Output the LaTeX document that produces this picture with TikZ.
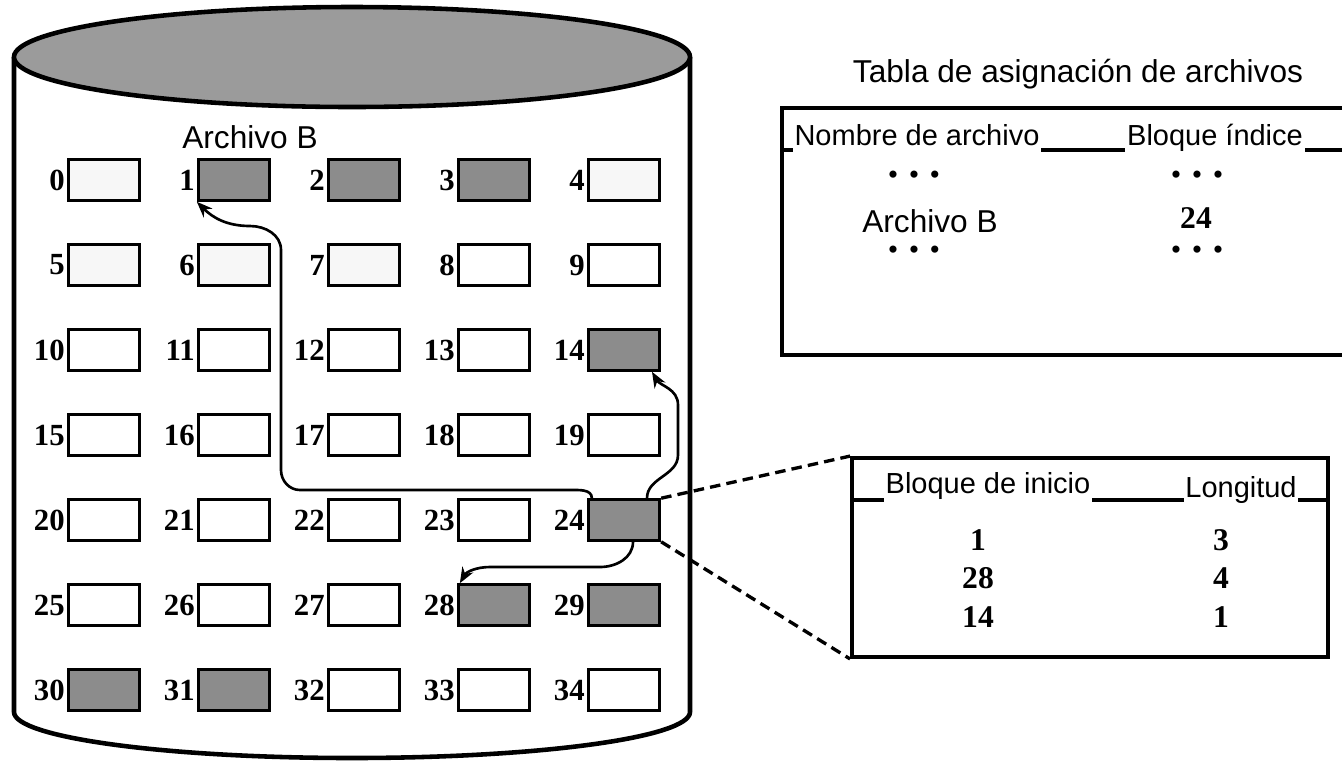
\documentclass[tikz,border=0pt]{standalone}
\usepackage{fontspec}
\setmainfont{Liberation Serif}
\setsansfont{Liberation Sans}
\usepackage{tikz}
\usetikzlibrary{arrows.meta,calc,fit}
\definecolor{diskgray}{RGB}{155,155,155}
\definecolor{usedgray}{RGB}{140,140,140}
\definecolor{palegray}{RGB}{247,247,247}

\begin{document}
\begin{tikzpicture}
[x=0.02cm, y=-0.02cm,
block/.style={draw, line width=1.8pt, minimum width=40.5pt, minimum height=23pt, inner sep=0pt, fill=white},
used/.style={block, fill=usedgray},
pale/.style={block, fill=palegray},
num/.style={font=\bfseries\fontsize{17.5}{17.5}\selectfont, inner sep=1pt},
val/.style={font=\bfseries\fontsize{18}{18}\selectfont, inner sep=0pt},
lbl/.style={font=\sffamily\fontsize{16.5}{18}\selectfont, inner sep=1pt, anchor=base},
head/.style={lbl, fill=white, inner xsep=1pt, inner ysep=4.5pt},
dots/.style={font=\fontsize{17}{17}\selectfont, inner sep=0pt},
link/.style={line width=1.5pt, -{Stealth[length=9pt,width=7pt]}},
zoom/.style={line width=1.9pt, dash pattern=on 6pt off 3.5pt},
frame/.style={line width=2.2pt}]
\useasboundingbox (0,0) rectangle (1342,762);
\draw[line width=2.6pt] (14,57) -- (14,712) arc[start angle=180, end angle=0, x radius=338, y radius=46] -- (690,57);
\draw[line width=2.6pt, fill=diskgray] (352,57) ellipse[x radius=338, y radius=50];
\node[lbl, font=\sffamily\fontsize{18}{20}\selectfont] (fileB) at (250,148) {Archivo B};
\node[pale, label={[num]left:0}] (b0) at (104,180) {};
\node[used, label={[num]left:1}] (b1) at (234,180) {};
\node[used, label={[num]left:2}] (b2) at (364,180) {};
\node[used, label={[num]left:3}] (b3) at (494,180) {};
\node[pale, label={[num]left:4}] (b4) at (624,180) {};
\node[pale, label={[num]left:5}] (b5) at (104,265) {};
\node[pale, label={[num]left:6}] (b6) at (234,265) {};
\node[pale, label={[num]left:7}] (b7) at (364,265) {};
\node[block, label={[num]left:8}] (b8) at (494,265) {};
\node[block, label={[num]left:9}] (b9) at (624,265) {};
\node[block, label={[num]left:10}] (b10) at (104,350) {};
\node[block, label={[num]left:11}] (b11) at (234,350) {};
\node[block, label={[num]left:12}] (b12) at (364,350) {};
\node[block, label={[num]left:13}] (b13) at (494,350) {};
\node[used, label={[num]left:14}] (b14) at (624,350) {};
\node[block, label={[num]left:15}] (b15) at (104,435) {};
\node[block, label={[num]left:16}] (b16) at (234,435) {};
\node[block, label={[num]left:17}] (b17) at (364,435) {};
\node[block, label={[num]left:18}] (b18) at (494,435) {};
\node[block, label={[num]left:19}] (b19) at (624,435) {};
\node[block, label={[num]left:20}] (b20) at (104,520) {};
\node[block, label={[num]left:21}] (b21) at (234,520) {};
\node[block, label={[num]left:22}] (b22) at (364,520) {};
\node[block, label={[num]left:23}] (b23) at (494,520) {};
\node[used, label={[num]left:24}] (b24) at (624,520) {};
\node[block, label={[num]left:25}] (b25) at (104,605) {};
\node[block, label={[num]left:26}] (b26) at (234,605) {};
\node[block, label={[num]left:27}] (b27) at (364,605) {};
\node[used, label={[num]left:28}] (b28) at (494,605) {};
\node[used, label={[num]left:29}] (b29) at (624,605) {};
\node[used, label={[num]left:30}] (b30) at (104,690) {};
\node[used, label={[num]left:31}] (b31) at (234,690) {};
\node[block, label={[num]left:32}] (b32) at (364,690) {};
\node[block, label={[num]left:33}] (b33) at (494,690) {};
\node[block, label={[num]left:34}] (b34) at (624,690) {};
\draw[link] ($(b24.north west)+(5,0)$) to[out=90,in=0] (570,490) -- (300,490) to[out=180,in=-90] (281,470) -- (281,250) to[out=90,in=0] (250,226) to[out=180,in=-45] (b1.south west);
\draw[link] ($(b24.north)+(23,0)$) to[out=90,in=-90] (678,455) -- (678,405) to[out=90,in=-60] ($(b14.south)+(28,0)$);
\draw[link] ($(b24.south)+(9,0)$) to[out=-90,in=0] (600,567) -- (490,567) to[out=180,in=60] ($(b28.north west)+(3,0)$);
\node[lbl, font=\sffamily\fontsize{18}{20}\selectfont] (title) at (1078,82) {Tabla de asignación de archivos};
\draw[frame] (1342,108) -- (782,108) -- (782,355) -- (1342,355);
\draw[frame] (782,150) -- (1342,150);
\node[head] (name) at (917,145) {Nombre de archivo};
\node[head] (index) at (1215,145) {Bloque índice};
\node[dots] (dotsA) at (914,178) {\textbullet\hspace{6pt}\textbullet\hspace{6pt}\textbullet};
\node[dots] (dotsB) at (1197,178) {\textbullet\hspace{6pt}\textbullet\hspace{6pt}\textbullet};
\node[lbl, font=\sffamily\fontsize{18}{20}\selectfont] (entry) at (930,232) {Archivo B};
\node[val] (entryidx) at (1196,218) {24};
\node[dots] (dotsC) at (914,253) {\textbullet\hspace{6pt}\textbullet\hspace{6pt}\textbullet};
\node[dots] (dotsD) at (1197,253) {\textbullet\hspace{6pt}\textbullet\hspace{6pt}\textbullet};
\node[frame, draw, inner sep=0pt, fit={(852,458) (1328,657)}] (tab) {};
\draw[frame] ($(tab.north west)+(0,44)$) -- ($(tab.north east)+(0,44)$);
\node[head] (start) at (988,493) {Bloque de inicio};
\node[head] (len) at (1241,497) {Longitud};
\node[val] (s1) at (978,540) {1};
\node[val] (s2) at (978,578) {28};
\node[val] (s3) at (978,617) {14};
\node[val] (l1) at (1221,540) {3};
\node[val] (l2) at (1221,578) {4};
\node[val] (l3) at (1221,617) {1};
\draw[zoom] (b24.north east) -- (tab.north west);
\draw[zoom] (b24.south east) -- (tab.south west);
\end{tikzpicture}
\end{document}
